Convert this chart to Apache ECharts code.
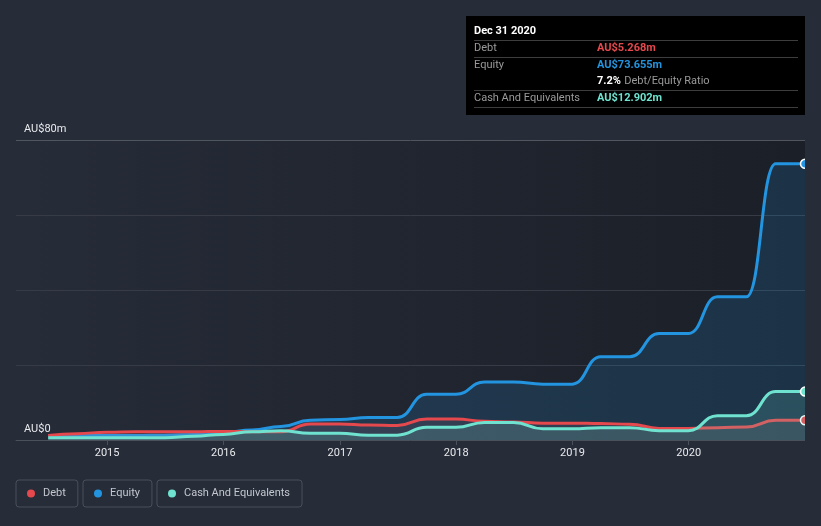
<!DOCTYPE html>
<html>
<head>
<meta charset="utf-8">
<script src="https://cdn.jsdelivr.net/npm/echarts@6/dist/echarts.min.js"></script>
<style>
html,body{margin:0;padding:0;background:#262c38;}
#chart{width:821px;height:526px;}
</style>
</head>
<body>
<div id="chart"></div>
<script>
const dates = ['2014-06-30','2014-09-30','2014-12-31','2015-03-31','2015-06-30','2015-09-30','2015-12-31','2016-03-31','2016-06-30','2016-09-30','2016-12-31','2017-03-31','2017-06-30','2017-09-30','2017-12-31','2018-03-31','2018-06-30','2018-09-30','2018-12-31','2019-03-31','2019-06-30','2019-09-30','2019-12-31','2020-03-31','2020-06-30','2020-09-30','2020-12-31'];
const debt   = [1.2,1.7,2.1,2.2,2.2,2.2,2.3,2.2,2.2,4.3,4.3,4.0,3.9,5.6,5.6,5.0,4.8,4.5,4.5,4.4,4.2,3.1,3.1,3.3,3.5,5.268,5.268];
const equity = [1.2,1.2,1.2,1.2,1.3,1.5,2.0,2.7,3.6,5.3,5.5,6.0,6.0,12.2,12.2,15.5,15.5,14.9,14.9,22.2,22.2,28.4,28.4,38.2,38.2,73.655,73.655];
const cash   = [0.6,0.6,0.6,0.6,0.6,1.0,1.5,2.2,2.5,1.8,1.8,1.3,1.3,3.4,3.4,4.7,4.7,3.0,3.0,3.3,3.3,2.5,2.5,6.5,6.5,12.902,12.902];
const yTicks = [0, 80];
const seriesNames = ['Debt','Equity','Cash And Equivalents'];
const colors = {debt:'#e5484d', equity:'#2394df', cash:'#6fe3cf'};

const chart = echarts.init(document.getElementById('chart'));
const FONT = 'Roboto';

function mk(arr){
  return arr.map((v,i)=>{
    if(i===arr.length-1) return {value:[dates[i],v], symbol:'circle'};
    return [dates[i],v];
  });
}
const lastD = debt[debt.length-1], lastE = equity[equity.length-1], lastC = cash[cash.length-1];
const ratio = (lastD/lastE*100).toFixed(1)+'%';
const fmt = v => 'AU$'+v.toFixed(3)+'m';

function legend(name, left){
  return {
    data:[name], left:left, top:480, orient:'horizontal',
    icon:'circle', itemWidth:8, itemHeight:8,
    itemStyle:{borderWidth:0},
    padding:[7,12,7,11], borderColor:'#4a505b', borderWidth:1, borderRadius:3,
    textStyle:{color:'#c3c7ce', fontFamily:FONT, fontSize:11, lineHeight:13, padding:[0,0,0,3]},
    selectedMode:false
  };
}

const option = {
  backgroundColor:'#262c38',
  animation:false,
  grid:{left:16,right:16,top:140,bottom:86,show:true,borderWidth:0,
    backgroundColor:{type:'linear',x:0,y:0,x2:1,y2:0,colorStops:[{offset:0,color:'rgba(14,15,19,0)'},{offset:1,color:'rgba(14,15,19,0.45)'}]}},
  legend:[legend('Debt',16), legend('Equity',83), legend('Cash And Equivalents',157)],
  xAxis:{type:'time', min:'2014-03-21', max:'2020-12-31', splitNumber:7,
    axisLine:{show:true,lineStyle:{color:'#4b515b',width:1}},
    axisTick:{show:true,length:5,lineStyle:{color:'#4b515b'}},
    splitLine:{show:false},
    axisLabel:{color:'#e8eaed',fontFamily:FONT,fontSize:11,margin:8,formatter:'{yyyy}',hideOverlap:true}
  },
  yAxis:{type:'value',min:0,max:80,interval:20,
    axisLine:{show:false},axisTick:{show:false},
    splitLine:{show:true,lineStyle:{color:['#363b45','#363b45','#363b45','#363b45','#50555e'],width:1}},
    axisLabel:{inside:true,margin:8,align:'left',verticalAlign:'bottom',padding:[0,0,5,0],color:'#e8eaed',fontFamily:FONT,fontSize:11,
      formatter:v=> yTicks.includes(v) ? (v===0?'AU$0':'AU$'+v+'m') : ''}
  },
  series:[
    {name:'Debt',type:'line',data:mk(debt),smooth:0.5,smoothMonotone:'x',symbol:'none',symbolSize:9,z:3,
      lineStyle:{color:colors.debt,width:3},itemStyle:{color:colors.debt,borderColor:'#fff',borderWidth:1.5},
      areaStyle:{color:'rgba(200,120,130,0.16)'}},
    {name:'Equity',type:'line',data:mk(equity),smooth:0.5,smoothMonotone:'x',symbol:'none',symbolSize:9,z:2,
      lineStyle:{color:colors.equity,width:3},itemStyle:{color:colors.equity,borderColor:'#fff',borderWidth:1.5},
      areaStyle:{color:'rgba(35,148,223,0.24)'}},
    {name:'Cash And Equivalents',type:'line',data:mk(cash),smooth:0.5,smoothMonotone:'x',symbol:'none',symbolSize:9,z:4,
      lineStyle:{color:colors.cash,width:3},itemStyle:{color:colors.cash,borderColor:'#fff',borderWidth:1.5},
      areaStyle:{color:'rgba(111,227,207,0.24)'}}
  ],
  graphic:[
    {type:'rect',left:805,top:130,shape:{width:16,height:320},style:{fill:'#262c38'},z:100},
    {type:'group',left:466,top:16,z:200,children:[
      {type:'rect',shape:{x:0,y:0,width:339,height:99},style:{fill:'#000'}},
      {type:'text',x:8,y:15,style:{text:'Dec 31 2020',fill:'#fff',font:'bold 11px Roboto',verticalAlign:'middle'}},
      {type:'line',shape:{x1:8,y1:24.5,x2:332,y2:24.5},style:{stroke:'#3d3d3d',lineWidth:1}},
      {type:'text',x:8,y:32,style:{text:'Debt',fill:'#9a9a9a',font:'11px Roboto',verticalAlign:'middle'}},
      {type:'text',x:131,y:32,style:{text:fmt(lastD),fill:colors.debt,font:'bold 11px Roboto',verticalAlign:'middle'}},
      {type:'line',shape:{x1:8,y1:41.5,x2:332,y2:41.5},style:{stroke:'#3d3d3d',lineWidth:1}},
      {type:'text',x:8,y:49,style:{text:'Equity',fill:'#9a9a9a',font:'11px Roboto',verticalAlign:'middle'}},
      {type:'text',x:131,y:49,style:{text:fmt(lastE),fill:colors.equity,font:'bold 11px Roboto',verticalAlign:'middle'}},
      {type:'text',x:131,y:65,style:{text:'{b|'+ratio+'} {g|Debt/Equity Ratio}',verticalAlign:'middle',
        rich:{b:{fill:'#fff',font:'bold 11px Roboto'},g:{fill:'#9a9a9a',font:'11px Roboto'}}}},
      {type:'line',shape:{x1:8,y1:74.5,x2:332,y2:74.5},style:{stroke:'#3d3d3d',lineWidth:1}},
      {type:'text',x:8,y:82,style:{text:'Cash And Equivalents',fill:'#9a9a9a',font:'11px Roboto',verticalAlign:'middle'}},
      {type:'text',x:131,y:82,style:{text:fmt(lastC),fill:colors.cash,font:'bold 11px Roboto',verticalAlign:'middle'}},
      {type:'line',shape:{x1:8,y1:91.5,x2:332,y2:91.5},style:{stroke:'#3d3d3d',lineWidth:1}}
    ]}
  ]
};
chart.setOption(option);
</script>
</body>
</html>
